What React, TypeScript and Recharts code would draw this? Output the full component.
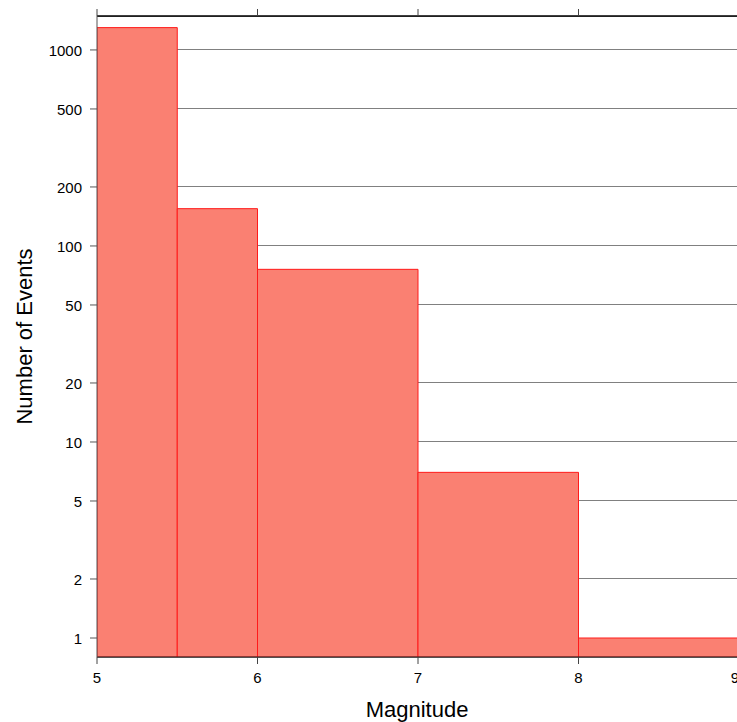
import React from 'react';
import { ComposedChart, XAxis, YAxis, CartesianGrid, ReferenceArea, Label } from 'recharts';

const binStarts = [5, 5.5, 6, 7, 8];
const binEnds = [5.5, 6, 7, 8, 9];
const counts = [1300, 155, 76, 7, 1];
const xTicks = [5, 6, 7, 8, 9];
const yTicks = [1, 2, 5, 10, 20, 50, 100, 200, 500, 1000];
const yMin = 0.8;
const yMax = 1490;

const FONT = '"Liberation Sans", Arial, sans-serif';

const data = binStarts.map((s, i) => ({ x: (s + binEnds[i]) / 2, count: counts[i] }));

const EmptyTick = () => <g />;

const XTick = (props: any) => {
  const { x, y, payload } = props;
  return (
    <text x={x} y={y + 11} textAnchor="middle" fontSize={15} fontFamily={FONT} fill="#000">
      {payload.value}
    </text>
  );
};

const YTick = (props: any) => {
  const { x, y, payload } = props;
  return (
    <text x={x} y={y + 6} textAnchor="end" fontSize={15} fontFamily={FONT} fill="#000">
      {payload.value}
    </text>
  );
};

export default function App() {
  return (
    <div style={{ position: 'absolute', left: 0, top: 0, width: 737, height: 722, overflow: 'hidden', background: '#fff', fontFamily: FONT }}>
      <ComposedChart width={739} height={722} data={data} margin={{ top: 0, right: 0, bottom: 0, left: 0 }}>
        <CartesianGrid vertical={false} stroke="#808080" strokeWidth={1} shapeRendering="crispEdges" />
        <XAxis
          xAxisId="bottom"
          dataKey="x"
          type="number"
          domain={[5, 9]}
          ticks={xTicks}
          allowDataOverflow
          height={65}
          tickSize={7}
          tickMargin={8}
          axisLine={{ stroke: '#222', strokeWidth: 1.2 }}
          tickLine={{ stroke: '#444' }}
          tick={XTick}
        >
          <Label
            content={({ viewBox }: any) => (
              <text x={417} y={viewBox.y + viewBox.height - 5} textAnchor="middle" fontSize={22} fontFamily={FONT} fill="#000">
                Magnitude
              </text>
            )}
          />
        </XAxis>
        <XAxis
          xAxisId="top"
          dataKey="x"
          orientation="top"
          type="number"
          domain={[5, 9]}
          ticks={xTicks}
          allowDataOverflow
          height={16}
          tickSize={7}
          tick={EmptyTick}
          axisLine={{ stroke: '#000', strokeWidth: 1.6 }}
          tickLine={{ stroke: '#444' }}
        />
        <YAxis
          dataKey="count"
          scale="log"
          type="number"
          domain={[yMin, yMax]}
          ticks={yTicks}
          allowDataOverflow
          width={97}
          tickSize={7}
          tickMargin={8}
          axisLine={{ stroke: '#555' }}
          tickLine={{ stroke: '#555' }}
          tick={YTick}
          interval={0}
        >
          <Label
            content={({ viewBox }: any) => {
              const cy = viewBox.y + viewBox.height / 2;
              return (
                <text x={24} y={cy} transform={`rotate(-90, 24, ${cy})`} textAnchor="middle" dominantBaseline="central" fontSize={22} fontFamily={FONT} fill="#000">
                  Number of Events
                </text>
              );
            }}
          />
        </YAxis>
        {binStarts.map((s, i) => (
          <ReferenceArea
            key={i}
            xAxisId="bottom"
            x1={s}
            x2={binEnds[i]}
            y1={yMin}
            y2={counts[i]}
            fill="#FA8072"
            fillOpacity={1}
            stroke="#FF1a1a"
            strokeWidth={1}
            ifOverflow="hidden"
          />
        ))}
      </ComposedChart>
    </div>
  );
}
